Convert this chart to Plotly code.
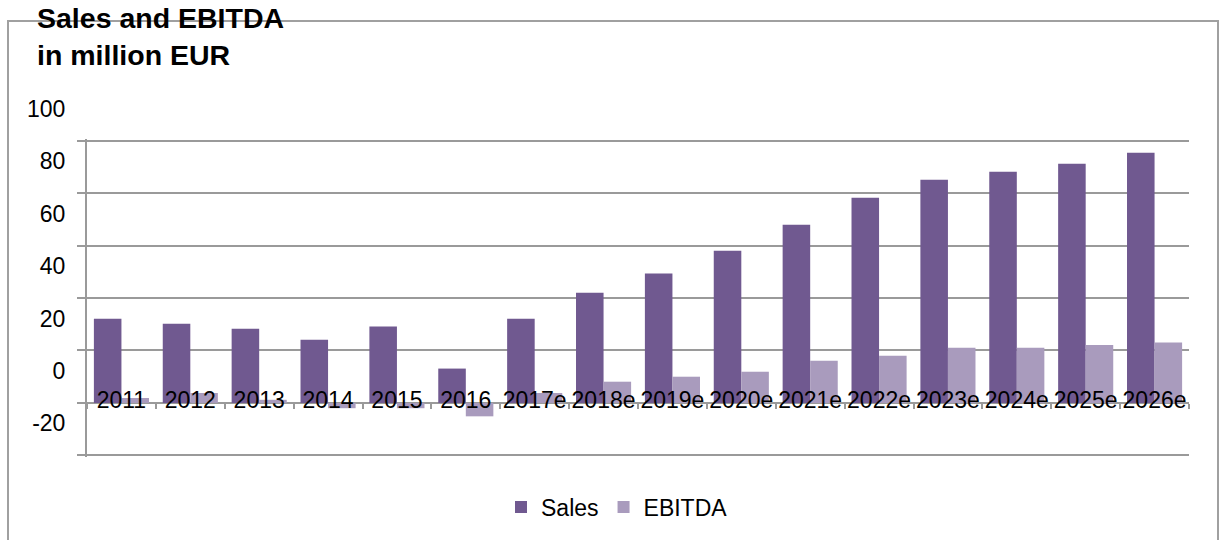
import plotly.graph_objects as go

years = ["2011", "2012", "2013", "2014", "2015", "2016", "2017e", "2018e",
         "2019e", "2020e", "2021e", "2022e", "2023e", "2024e", "2025e", "2026e"]
sales = [32.1, 30.2, 28.3, 24.1, 29.1, 13.1, 32.1, 42.0,
         49.3, 58.0, 67.9, 78.2, 85.1, 88.1, 91.2, 95.4]
ebitda = [1.9, 3.8, 1.2, -2.0, -2.0, -5.1, 3.8, 8.1,
          10.0, 11.9, 16.1, 18.0, 21.0, 21.0, 22.1, 23.0]
y_ticks = [-20, 0, 20, 40, 60, 80, 100]
y_tick_labels = ["-20", "0", "20", "40", "60", "80", "100"]

W, H = 1225, 540
ML, MR, MT, MB = 87, 36, 139, 83
FONT = "Liberation Sans, Arial, sans-serif"
GRID = "#9a9a9a"
ymin, ymax = -20.6, 100.6
zero_frac = (0 - ymin) / (ymax - ymin)
plot_h = H - MT - MB
plot_w = W - ML - MR

fig = go.Figure()
fig.add_trace(go.Bar(x=years, y=sales, name="Sales", marker_color="#705990",
                     marker_line_width=0))
fig.add_trace(go.Bar(x=years, y=ebitda, name="EBITDA", marker_color="#a99bbd",
                     marker_line_width=0))

label_px_above_zero = 19
fig.update_layout(
    width=W, height=H,
    margin=dict(l=ML, r=MR, t=MT, b=MB, pad=0),
    paper_bgcolor="white", plot_bgcolor="white",
    barmode="group", bargap=0.2, bargroupgap=0,
    font=dict(family=FONT, size=23, color="black"),
    title=dict(text="<b>Sales and EBITDA<br>in million EUR</b>",
               font=dict(family=FONT, size=28.5, color="black"),
               x=37 / W, xanchor="left", xref="container",
               y=1 - 28 / H, yanchor="top", yref="container"),
    xaxis=dict(type="category", anchor="free", position=zero_frac,
               showline=False, showgrid=False, ticks="outside",
               tickson="boundaries", ticklen=5, tickwidth=1.5, tickcolor=GRID,
               showticklabels=False),
    xaxis2=dict(overlaying="x", anchor="free",
                position=zero_frac + label_px_above_zero / plot_h,
                range=[-0.5, len(years) - 0.5], tickmode="array",
                tickvals=list(range(len(years))), ticktext=years,
                showline=False, showgrid=False, ticks="", zeroline=False,
                tickfont=dict(family=FONT, size=23, color="black")),
    yaxis=dict(range=[ymin, ymax], tickmode="array", tickvals=y_ticks,
               ticktext=y_tick_labels,
               showgrid=True, gridcolor=GRID, gridwidth=2,
               zeroline=True, zerolinecolor=GRID, zerolinewidth=2,
               showline=True, linecolor=GRID, linewidth=2,
               ticks="outside", ticklen=8, tickwidth=2, tickcolor=GRID,
               ticklabelshift=-32, ticklabelstandoff=7,
               tickfont=dict(family=FONT, size=23, color="black")),
    legend=dict(orientation="h", x=(617 - ML) / plot_w, xanchor="center",
                y=-(507 - (H - MB)) / plot_h, yanchor="middle",
                font=dict(family=FONT, size=23, color="black"),
                itemwidth=30, traceorder="normal"),
    showlegend=True,
)
# invisible trace to activate the label axis
fig.add_trace(go.Scatter(x=[0], y=[0], xaxis="x2", mode="markers",
                         marker=dict(opacity=0), showlegend=False,
                         hoverinfo="skip"))

# outer chart border
fig.add_shape(type="rect", xref="paper", yref="paper",
              x0=(8 - ML) / plot_w, x1=(1218 - ML) / plot_w,
              y0=((H - MB) - 560) / plot_h, y1=((H - MB) - 21) / plot_h,
              line=dict(color="#a0a0a0", width=2), layer="below")

fig.write_html("out.html")
